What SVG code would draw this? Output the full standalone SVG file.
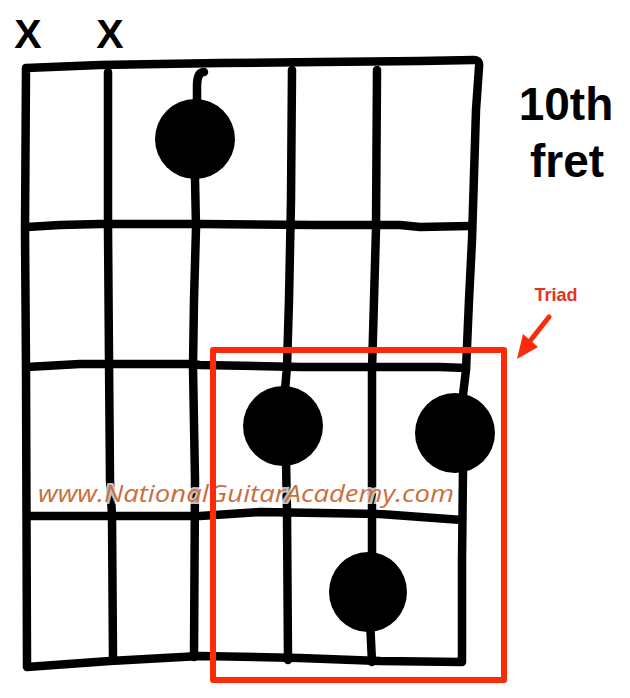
<svg xmlns="http://www.w3.org/2000/svg" width="630" height="698" viewBox="0 0 630 698">
<style>
.ln{fill:none;stroke:#000;stroke-width:8.5;stroke-linecap:round;stroke-linejoin:round}
.dot{fill:#000}
.big{font-family:"Liberation Sans",Arial,sans-serif;font-weight:bold;fill:#000;text-anchor:middle}
.red{fill:none;stroke:#fa2a0a;stroke-width:6;stroke-linejoin:round}
.wm{font-family:"Open Sans","Noto Sans",sans-serif;font-style:italic;font-size:24px;fill:#c96f3c;stroke:#fff;stroke-width:4;stroke-opacity:0.75;paint-order:stroke}
</style>
<rect width="630" height="698" fill="#fff"/>
<g id="muted">
<text class="big" x="28" y="48" font-size="41">X</text>
<text class="big" x="110" y="48" font-size="41">X</text>
</g>
<g id="fret-label">
<text class="big" x="566" y="120" font-size="46">10th</text>
<text class="big" x="567" y="177" font-size="46">fret</text>
</g>
<g id="grid">
<path class="ln" d="M27,666 L26,370 L25,230 L26,68 L100,65 L220,63 L320,62 L420,61 L474,60 Q480,60 479,67 L476,110 L472,240 L469,300 L466,370 L463,395"/>
<path class="ln" d="M463,470 L462,560 L462,662 L380,661 L300,658 L200,656 L110,661 L27,667"/>
<path class="ln" d="M108,72 L108,150 L108,227 L109,360 L110,480 L112,515 L113,660"/>
<path class="ln" d="M204,72 C199,72 197,78 197,86 L197,100"/>
<path class="ln" d="M195,178 L196,228 L194,300 L193,367 L195,480 L194,657"/>
<path class="ln" d="M292,70 L291,200 L289,300 L287,367 L285,390"/>
<path class="ln" d="M286,460 L287,512 L288,660"/>
<path class="ln" d="M377,70 L376,228 L374,300 L372,370 L372,480 L372,560"/>
<path class="ln" d="M370,620 L372,662"/>
<path class="ln" d="M27,227 L60,225 L100,224 L200,224 L315,225 L400,225 L420,227 L470,226"/>
<path class="ln" d="M27,367 L80,364 L190,364 L200,365 L300,367 L440,367 L466,368"/>
<path class="ln" d="M27,516 L200,516 L260,512 L380,514 L462,520"/>
</g>
<g id="dots">
<circle class="dot" cx="195" cy="139" r="40"/>
<circle class="dot" cx="283" cy="426" r="40"/>
<circle class="dot" cx="455" cy="433" r="40"/>
<ellipse class="dot" cx="368" cy="592" rx="39" ry="40"/>
</g>
<g id="watermark">
<text class="wm" x="38" y="502" textLength="416" lengthAdjust="spacingAndGlyphs">www.NationalGuitarAcademy.com</text>
</g>
<g id="triad-box">
<rect class="red" x="213" y="350" width="291" height="330"/>
</g>
<g id="triad-label">
<text x="556" y="301" font-family="Liberation Sans,Arial,sans-serif" font-weight="bold" font-size="19" fill="#e8321e" text-anchor="middle" textLength="43" lengthAdjust="spacingAndGlyphs">Triad</text>
</g>
<g id="connectors">
<path d="M549,317 L530,341" stroke="#fa2a0a" stroke-width="5" stroke-linecap="round" fill="none"/>
<polygon points="517,359 538,347 523,334" fill="#fa2a0a"/>
</g>
</svg>
